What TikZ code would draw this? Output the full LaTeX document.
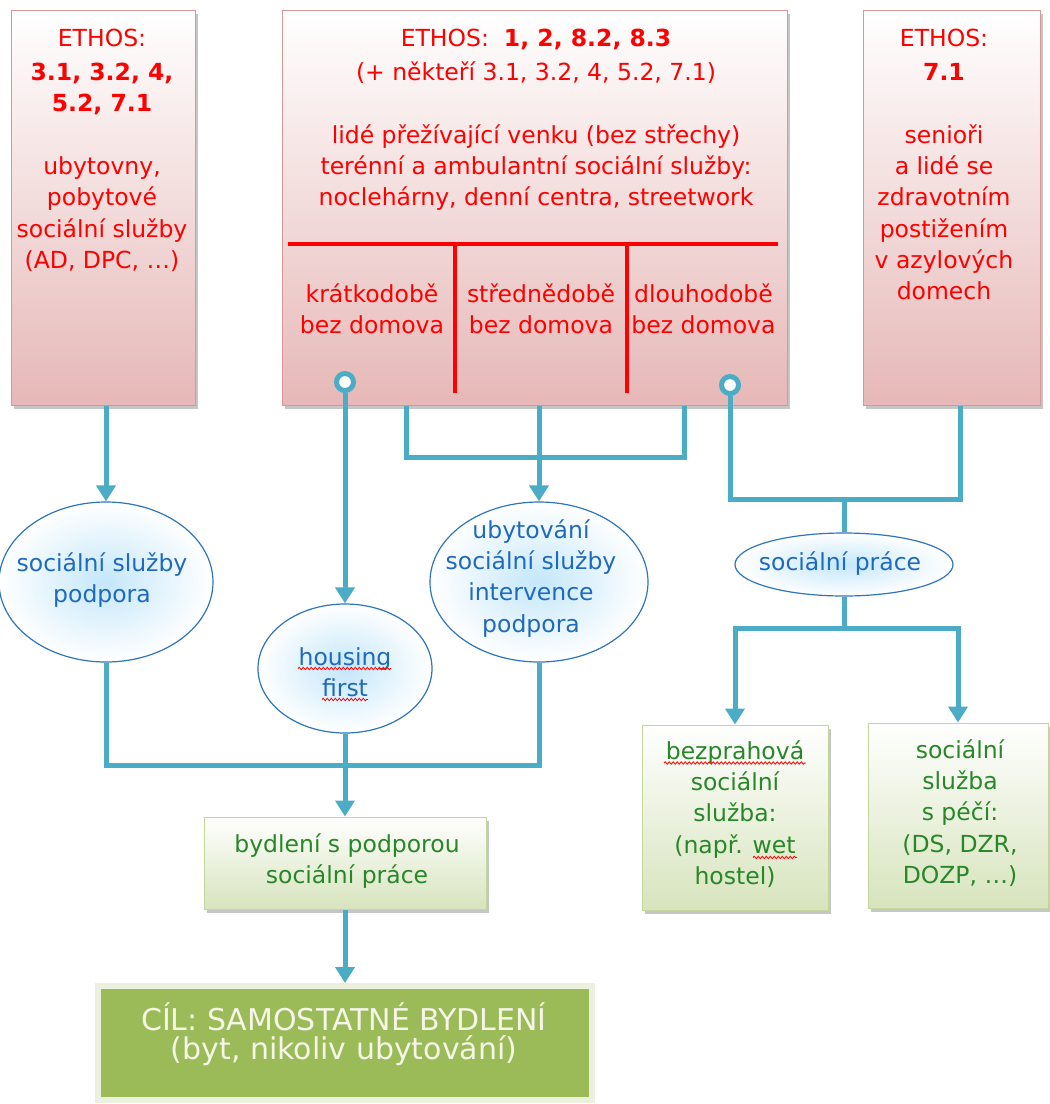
\documentclass[tikz,border=0pt]{standalone}
\usepackage{fontspec}
\setmainfont{DejaVu Sans}
\usetikzlibrary{shapes.geometric, arrows.meta, shadows, decorations.pathmorphing}
\definecolor{conncol}{HTML}{4BACC6}
\definecolor{redfill}{HTML}{E6B8B7}
\definecolor{redborder}{HTML}{D99694}
\definecolor{redtext}{HTML}{FF0000}
\definecolor{bluetext}{RGB}{31,106,190}
\definecolor{blueborder}{RGB}{46,117,190}
\definecolor{bluefill}{RGB}{196,231,250}
\definecolor{greenfill}{HTML}{D7E4BD}
\definecolor{greenborder}{HTML}{C3D69B}
\definecolor{greentext}{RGB}{40,135,40}
\definecolor{cilfill}{HTML}{9BBB59}
\definecolor{cilframe}{HTML}{EBF1DE}
\definecolor{ciltext}{RGB}{245,245,232}
\newcommand\fs{\fontsize{23.5}{31.3}\selectfont}
\newcommand\fl{\rule{0pt}{24pt}}
\begin{document}
\begin{tikzpicture}[x=1pt,y=-1pt,
  redbox/.style={draw=redborder, line width=1pt, top color=white, bottom color=redfill,
    drop shadow={shadow xshift=3pt, shadow yshift=-4pt, fill=black!50, opacity=.45},
    inner sep=0pt},
  greenbox/.style={draw=greenborder, line width=1pt, top color=white, bottom color=greenfill,
    drop shadow={shadow xshift=3pt, shadow yshift=-4pt, fill=black!50, opacity=.45},
    inner sep=0pt},
  bluell/.style={ellipse, draw=blueborder, line width=1.2pt, inner sep=0pt,
    shading=radial, inner color=bluefill, outer color=white},
  txt/.style={inner sep=0pt, align=center, anchor=north, font=\fs},
  conn/.style={draw=conncol, line width=5pt},
  arr/.style={-{Triangle[width=19pt,length=16pt]}},
  circ/.style={circle, draw=conncol, line width=5pt, fill=white, minimum size=17pt, inner sep=0pt},
  redline/.style={draw=redtext, line width=3.5pt},
  wavy/.style={draw=red, line width=0.8pt, decorate, decoration={snake, amplitude=1.2pt, segment length=4pt}}
]
\useasboundingbox (0,0) rectangle (1050,1104);

% ---- top red boxes
\node[redbox, minimum width=184pt, minimum height=395pt] (lb) at (103,207.5) {};
\node[redbox, minimum width=505pt, minimum height=395pt] (mb) at (534.5,207.5) {};
\node[redbox, minimum width=177pt, minimum height=395pt] (rb) at (951.5,207.5) {};

\draw[redline] (288,244) -- (778,244);
\draw[redline] (455,244) -- (455,393);
\draw[redline] (627,244) -- (627,393);

\node[txt, text=redtext] (lbt) at (102,22) {\fl ETHOS:\\[3pt] \textbf{3.1, 3.2, 4,}\\ \textbf{5.2, 7.1}\\[31.3pt] ubytovny,\\ pobytové\\ sociální služby\\ (AD, DPC, …)};
\node[txt, text=redtext] (mbt) at (536,22) {\fl ETHOS:~ \textbf{1, 2, 8.2, 8.3}\\[3pt] (+ někteří 3.1, 3.2, 4, 5.2, 7.1)\\[31.3pt] lidé přežívající venku (bez střechy)\\ terénní a ambulantní sociální služby:\\ noclehárny, denní centra, streetwork};
\node[txt, text=redtext] (k1) at (372,278) {\fl krátkodobě\\ bez domova};
\node[txt, text=redtext] (k2) at (541,278) {\fl střednědobě\\ bez domova};
\node[txt, text=redtext] (k3) at (703.5,278) {\fl dlouhodobě\\ bez domova};
\node[txt, text=redtext] (rbt) at (944,22) {\fl ETHOS:\\[3pt] \textbf{7.1}\\[31.3pt] senioři\\ a lidé se\\ zdravotním\\ postižením\\ v azylových\\ domech};

% ---- ellipses
\node[bluell, minimum width=214pt, minimum height=160pt] (e1) at (106,582) {};
\node[bluell, minimum width=174pt, minimum height=129pt] (hf) at (345,668.5) {};
\node[bluell, minimum width=218pt, minimum height=160pt] (ub) at (539,582) {};
\node[bluell, minimum width=218pt, minimum height=63pt] (sp) at (844,564.5) {};

\node[txt, text=bluetext] (e1t) at (102,547) {\fl sociální služby\\ podpora};
\node[txt, text=bluetext] (hft) at (345,641) {\fl housing\\ first};
\node[txt, text=bluetext] (ubt) at (531,514) {\fl ubytování\\ sociální služby\\ intervence\\ podpora};
\node[txt, text=bluetext] (spt) at (840,546) {\fl sociální práce};

\draw[wavy] (298,668.5) -- (391,668.5);
\draw[wavy] (322,699.5) -- (368,699.5);

% ---- green boxes
\node[greenbox, minimum width=282pt, minimum height=92pt] (bb) at (345,863) {};
\node[greenbox, minimum width=186pt, minimum height=185pt] (b1) at (735,817.5) {};
\node[greenbox, minimum width=180pt, minimum height=185pt] (b2) at (958,815.5) {};

\node[txt, text=greentext] (bbt) at (347,828) {\fl bydlení s podporou\\ sociální práce};
\node[txt, text=greentext] (b1t) at (735,735) {\fl bezprahová\\ sociální\\ služba:\\ (např. wet\\ hostel)};
\node[txt, text=greentext] (b2t) at (960,734) {\fl sociální\\ služba\\ s péčí:\\ (DS, DZR,\\ DOZP, …)};

\draw[wavy] (664,763) -- (806,763);
\draw[wavy] (753,857.5) -- (797,857.5);

% ---- goal box
\node[draw=cilframe, line width=6pt, fill=cilfill, minimum width=494pt, minimum height=114pt,
  inner sep=0pt, drop shadow={shadow xshift=2pt, shadow yshift=-2pt, fill=black!40, opacity=.35}] (cil) at (345,1043) {};
\node[txt, text=ciltext, font=\fontsize{30}{29}\selectfont] (cilt) at (344,1000)
  {\rule{0pt}{30pt}CÍL: SAMOSTATNÉ BYDLENÍ\\ (byt, nikoliv ubytování)};

% ---- connectors
\coordinate (j1) at (406,457);
\coordinate (j2) at (684,457);
\coordinate (j3) at (960,499);
\coordinate (j4) at (844,628);
\coordinate (j5) at (345,765);

\node[circ] (c1) at (345,382) {};
\node[circ] (c2) at (730,385) {};

\draw[conn, arr] (e1.north |- lb.south) -- (e1.north);
\draw[conn, arr] (c1.south) -- (hf.north);
\draw[conn] (j1 |- mb.south) -- (j1) -- (j2) -- (j2 |- mb.south);
\draw[conn, arr] (ub.north |- mb.south) -- (ub.north);
\draw[conn] (c2.south) |- (j3) -- (j3 |- rb.south);
\draw[conn] (sp.north |- j3) -- (sp.north);
\draw[conn, arr] (sp.south) -- (j4) -| (b1.north);
\draw[conn, arr] (j4) -| (b2.north);
\draw[conn] (e1.south) |- (j5) -| (ub.south);
\draw[conn, arr] (hf.south) -- (bb.north);
\draw[conn, arr] (bb.south) -- (cil.north);
\end{tikzpicture}
\end{document}
